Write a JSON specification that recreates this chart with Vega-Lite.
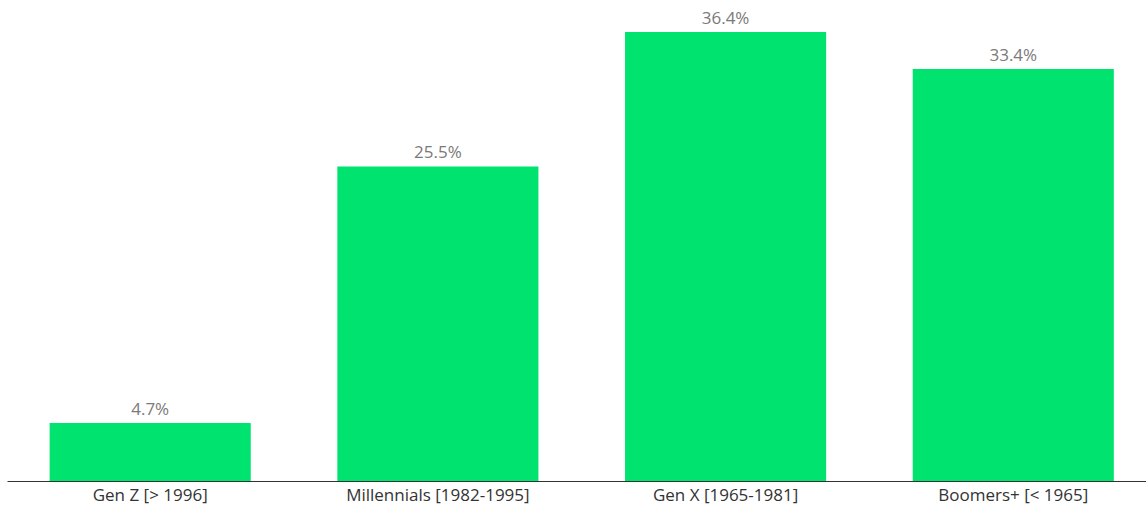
{
  "$schema": "https://vega.github.io/schema/vega-lite/v6.json",
  "autosize": {"type": "none"},
  "width": 1139,
  "height": 449,
  "padding": {"left": 7, "top": 32, "right": 0, "bottom": 25},
  "background": "white",
  "config": {"view": {"stroke": null}},
  "data": {"values": [
    {"gen": "Gen Z [> 1996]", "share": 4.7, "label": "4.7%"},
    {"gen": "Millennials [1982-1995]", "share": 25.5, "label": "25.5%"},
    {"gen": "Gen X [1965-1981]", "share": 36.4, "label": "36.4%"},
    {"gen": "Boomers+ [< 1965]", "share": 33.4, "label": "33.4%"}
  ]},
  "encoding": {
    "x": {"field": "gen", "type": "nominal", "sort": null,
      "scale": {"paddingInner": 0.301, "paddingOuter": 0.13, "align": 0.57},
      "axis": {"title": null, "labelAngle": 0, "ticks": false, "domainColor": "#333333", "domainWidth": 1,
        "labelFont": "Open Sans", "labelFontSize": 17, "labelColor": "#333333", "labelPadding": 6, "labelLimit": 400}},
    "y": {"field": "share", "type": "quantitative", "scale": {"domain": [0, 36.4], "nice": false, "zero": true}, "axis": null}
  },
  "layer": [
    {"mark": {"type": "bar", "color": "#00E36E"}},
    {"mark": {"type": "text", "baseline": "alphabetic", "dy": -8, "font": "Open Sans", "fontSize": 17, "color": "#7a7a7a"},
      "encoding": {"text": {"field": "label", "type": "nominal"}}}
  ]
}
